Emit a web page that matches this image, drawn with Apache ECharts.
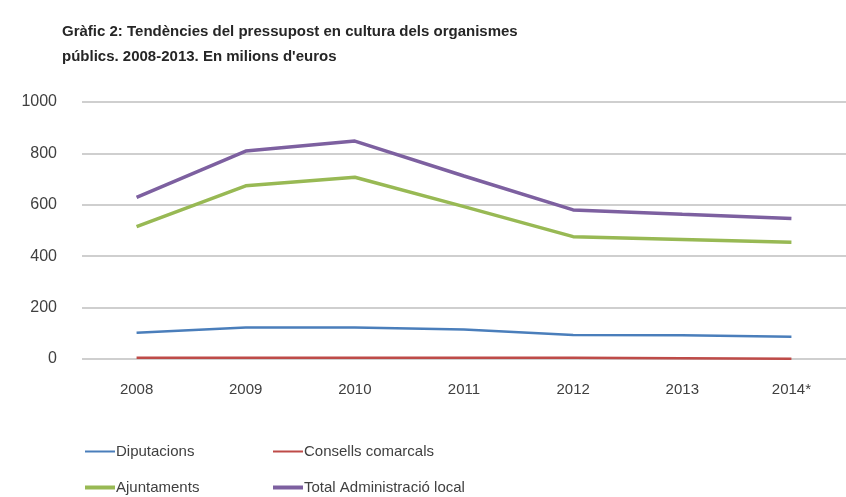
<!DOCTYPE html>
<html>
<head>
<meta charset="utf-8">
<script src="https://cdn.jsdelivr.net/npm/echarts@6/dist/echarts.min.js"></script>
<style>
  html, body { margin: 0; padding: 0; background: #fff; }
  #chart { width: 846px; height: 497px; }
</style>
</head>
<body>
<div id="chart"></div>
<script>
// data
let years = ['2008', '2009', '2010', '2011', '2012', '2013', '2014*']
let diputacions = [102, 123, 123, 115, 93, 92, 87]
let consells = [5, 5, 5, 5, 5, 3, 1]
let ajuntaments = [515, 674, 707, 593, 476, 465, 454]
let total = [629, 809, 848, 712, 580, 563, 547]
let yTicks = [0, 200, 400, 600, 800, 1000]

let font = '"Liberation Sans", sans-serif'

function line (name, data, color, width) {
  return {
    name: name,
    type: 'line',
    data: data,
    symbol: 'none',
    lineStyle: { color: color, width: width },
    itemStyle: { color: color }
  }
}

function legend (name, left, top) {
  return {
    data: [name],
    left: left,
    top: top,
    icon: 'rect',
    itemWidth: 30,
    itemHeight: name === 'Ajuntaments' || name === 'Total Administració local' ? 4 : 2,
    itemGap: 0,
    padding: 0,
    textStyle: { fontFamily: font, fontSize: 15, color: '#404040', padding: [0, 0, 0, -4] }
  }
}

let chart = echarts.init(document.getElementById('chart'))
chart.setOption({
  animation: false,
  title: {
    text: 'Gràfic 2: Tendències del pressupost en cultura dels organismes\npúblics. 2008-2013. En milions d\'euros',
    left: 62,
    top: 19,
    padding: 0,
    textStyle: { fontFamily: font, fontSize: 15, fontWeight: 'bold', color: '#262626', lineHeight: 25 }
  },
  legend: [
    legend('Diputacions', 85, 444),
    legend('Consells comarcals', 273, 444),
    legend('Ajuntaments', 85, 480),
    legend('Total Administració local', 273, 480)
  ],
  grid: { left: 82, top: 102, width: 770, height: 257 },
  xAxis: {
    type: 'category',
    data: years,
    boundaryGap: true,
    axisLine: { show: false },
    axisTick: { show: false },
    axisLabel: { fontFamily: font, fontSize: 15, color: '#404040', margin: 23 }
  },
  yAxis: {
    type: 'value',
    min: yTicks[0],
    max: yTicks[yTicks.length - 1],
    interval: 200,
    axisLine: { show: false },
    axisTick: { show: false },
    splitLine: { lineStyle: { color: '#bfbfbf', width: 1.5 } },
    axisLabel: { fontFamily: font, fontSize: 16, color: '#404040', margin: 25, formatter: v => String(v) }
  },
  series: [
    line('Diputacions', diputacions, '#4a7ebb', 2.5),
    line('Consells comarcals', consells, '#be4b48', 2.5),
    line('Ajuntaments', ajuntaments, '#98b954', 3.5),
    line('Total Administració local', total, '#7d60a0', 3.5)
  ]
})
</script>
</body>
</html>
